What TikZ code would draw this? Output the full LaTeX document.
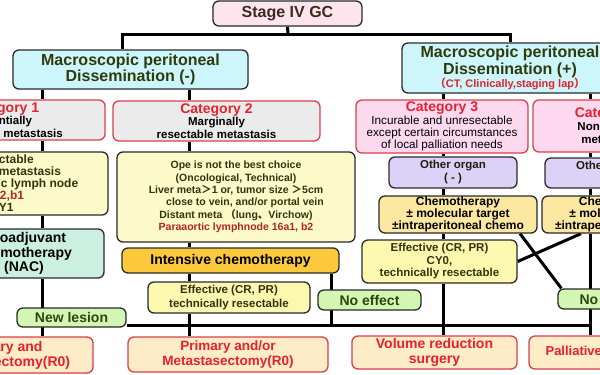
\documentclass[tikz,border=0pt]{standalone}
\usepackage{fontspec}
\setmainfont{Liberation Sans}
\newfontfamily\cjk{Noto Sans CJK JP}
\pgfdeclarelayer{bg}
\pgfsetlayers{bg,main}
\definecolor{cStage}{HTML}{FDE4EF}
\definecolor{cBrown}{HTML}{3C2A1E}
\definecolor{cCyan}{HTML}{CCF6FB}
\definecolor{cOlive}{HTML}{2F3B0C}
\definecolor{cGrey}{HTML}{EBEBEB}
\definecolor{cRedB}{HTML}{D9404A}
\definecolor{cRed}{HTML}{E5222B}
\definecolor{cPink}{HTML}{FDD9EF}
\definecolor{cYel}{HTML}{FCFAC9}
\definecolor{cMint}{HTML}{CBEFE0}
\definecolor{cGreen}{HTML}{D3F7B2}
\definecolor{cGreenT}{HTML}{2C4512}
\definecolor{cGold}{HTML}{FBC93B}
\definecolor{cEff}{HTML}{FCF8B0}
\definecolor{cLav}{HTML}{DCD1F7}
\definecolor{cChemo}{HTML}{FCE7A1}
\definecolor{cPeach}{HTML}{FEEBC8}
\definecolor{cDRed}{HTML}{B3261E}
\definecolor{cDark}{HTML}{33330F}
\definecolor{cBdr}{HTML}{2A2A2A}
\begin{document}
\begin{tikzpicture}[x=1pt,y=-1pt,
  box/.style={draw=cBdr, line width=1.3pt, rounded corners=6pt, inner sep=0pt, align=center},
  redbox/.style={box, draw=cRedB},
  conn/.style={line width=3pt, black},
  fbig/.style={font=\bfseries\fontsize{16}{16.5}\selectfont},
  fmid/.style={font=\bfseries\fontsize{14}{15}\selectfont},
  fsm/.style={font=\bfseries\fontsize{11.5}{12.5}\selectfont},
  ftw/.style={font=\bfseries\fontsize{12}{12}\selectfont}
]
\useasboundingbox (0,0) rectangle (600,375);
\clip (0,0) rectangle (600,375);

% top
\node[box, fill=cStage, minimum width=149pt, minimum height=25pt, text=cBrown, fbig] (stage) at (287.5,13.5) {Stage IV GC};
\node[box, fill=cCyan, minimum width=235pt, minimum height=39pt, text=cOlive, fbig] (macL) at (130.5,69.5) {Macroscopic peritoneal\\Dissemination (-)};
\node[box, fill=cCyan, minimum width=216pt, minimum height=50pt, text=cOlive, fbig] (macR) at (510,68) {Macroscopic peritoneal\\Dissemination (+)\\[-3pt]{\color{cRed}\fontsize{11}{12}\selectfont{\cjk （}CT, Clinically,staging lap{\cjk ）}}};

% categories
\node[redbox, fill=cGrey, minimum width=204pt, minimum height=40pt, fsm] (cat1) at (3,120) {{\color{cRed}\fontsize{14}{14}\selectfont Category 1}\\Potentially\\resectable metastasis};
\node[redbox, fill=cGrey, minimum width=207pt, minimum height=40pt, fsm] (cat2) at (216.5,121) {{\color{cRed}\fontsize{14}{14}\selectfont Category 2}\\Marginally\\resectable metastasis};
\node[redbox, fill=cPink, minimum width=172pt, minimum height=53pt, font=\fontsize{11.7}{12.3}\selectfont] (cat3) at (442,126.5) {{\color{cRed}\bfseries\fontsize{14}{14}\selectfont Category 3}\\Incurable and unresectable\\except certain circumstances\\of local palliation needs};
\node[redbox, fill=cPink, minimum width=156pt, minimum height=52pt, font=\bfseries\fontsize{11.5}{13}\selectfont] (cat4) at (611,126) {{\color{cRed}\fontsize{14}{14}\selectfont Category 4}\\Non-curable\\metastasis};

% left column
\node[box, fill=cYel, minimum width=212pt, minimum height=63pt, text=cDark, ftw] (yel1) at (2,183.5) {Resectable\\\hspace*{24pt}Liver metastasis\\\hspace*{23pt}Paraaortic lymph node\\{\color{cDRed}16a2,b1}\\CY1};
\node[box, fill=cMint, minimum width=160pt, minimum height=49pt, font=\bfseries\fontsize{14}{14.5}\selectfont] (nac) at (24,253.5) {Neoadjuvant\\chemotherapy\\(NAC)};
\node[box, fill=cGreen, minimum width=109pt, minimum height=19pt, text=cGreenT, fmid] (newlesion) at (71.5,317.5) {New lesion};
\node[redbox, fill=cPeach, minimum width=182pt, minimum height=36pt, text=cRed, fmid] (botL) at (2,355) {Primary and\\Metastasectomy(R0)};

% middle column
\node[box, fill=cYel, minimum width=238pt, minimum height=90pt, text=cDark, font=\bfseries\fontsize{10.5}{12.4}\selectfont] (yel2) at (236,197) {Ope is not the best choice\\(Oncological, Technical)\\Liver meta{\cjk ＞}1 or, tumor size {\cjk ＞}5cm\\\hspace*{18pt}close to vein, and/or portal vein\\Distant meta {\cjk （}lung{\cjk 、}Virchow)\\{\color{cDRed}Paraaortic lymphnode 16a1, b2}};
\node[box, fill=cGold, minimum width=217pt, minimum height=25pt, fmid] (intensive) at (230.5,260.5) {Intensive chemotherapy};
\node[box, fill=cEff, minimum width=162pt, minimum height=31pt, text=cDark, font=\bfseries\fontsize{11.5}{13.5}\selectfont] (eff2) at (229,297.5) {Effective (CR, PR)\\technically resectable};
\node[box, fill=cGreen, minimum width=103pt, minimum height=20pt, text=cGreenT, fmid] (noeffL) at (369.5,300) {No effect};
\node[redbox, fill=cPeach, minimum width=200pt, minimum height=35pt, text=cRed, font=\bfseries\fontsize{13.5}{14.5}\selectfont] (botM) at (228,354.5) {Primary and/or\\Metastasectomy(R0)};

% right columns
\node[box, fill=cLav, minimum width=128pt, minimum height=31pt, text=cDark!60!black, font=\bfseries\fontsize{11.5}{13}\selectfont] (other3) at (453,172.5) {Other organ\\( - )};
\node[box, fill=cLav, minimum width=128pt, minimum height=30pt, text=cDark!60!black, font=\bfseries\fontsize{11.5}{13}\selectfont] (other4) at (609,173) {Other organ\\( - )};
\node[box, fill=cChemo, minimum width=158pt, minimum height=37pt, font=\bfseries\fontsize{12}{11.8}\selectfont] (chemo3) at (458,214.5) {Chemotherapy\\± molecular target\\±intraperitoneal chemo};
\node[box, fill=cChemo, minimum width=158pt, minimum height=37pt, font=\bfseries\fontsize{12}{11.8}\selectfont] (chemo4) at (621,214.5) {Chemotherapy\\± molecular target\\±intraperitoneal chemo};
\node[box, fill=cEff, minimum width=155pt, minimum height=43pt, text=cDark, font=\bfseries\fontsize{11.5}{12.5}\selectfont] (effR) at (439.5,261.5) {Effective (CR, PR)\\CY0,\\technically resectable};
\node[box, fill=cGreen, minimum width=103pt, minimum height=20pt, text=cGreenT, fmid] (noeffR) at (609.5,299) {No effect};
\node[redbox, fill=cPeach, minimum width=165pt, minimum height=33pt, text=cRed, fmid] (botR) at (434.5,352.5) {Volume reduction\\surgery};
\node[redbox, fill=cPeach, minimum width=182pt, minimum height=33pt, text=cRed, font=\bfseries\fontsize{13}{14}\selectfont] (pall) at (620,352.5) {Palliative chemotherapy};

% guide coordinates
\coordinate (top) at (288,34);
\coordinate (gm) at (122,0);
\coordinate (ga) at (42,0);
\coordinate (gb) at (189,0);
\coordinate (gn) at (331,0);
\coordinate (gc) at (443,0);
\coordinate (gd) at (590,0);
\coordinate (ge) at (520,0);
\coordinate (gf) at (581,0);
\coordinate (busy) at (0,325);

\begin{pgfonlayer}{bg}
\fill[white] (0,0) rectangle (600,375);
\clip (0,0) rectangle (600,375);
\draw[conn] (stage.south) -- (top);
\draw[conn] (macL.north -| gm) |- (top) -| (macR.north);
\draw[conn] (macL.south -| ga) -- (cat1.north -| ga);
\draw[conn] (macL.south -| gb) -- (cat2.north -| gb);
\draw[conn] (cat1.south -| ga) -- (yel1.north -| ga);
\draw[conn] (yel1.south -| ga) -- (nac.north -| ga);
\draw[conn] (nac.south -| ga) -- (botL.north -| ga);
\draw[conn] (cat2.south -| gb) -- (yel2.north -| gb);
\draw[conn] (yel2.south -| gb) -- (intensive.north -| gb);
\draw[conn] (intensive.south -| gb) -- (eff2.north -| gb);
\draw[conn] (eff2.south -| gb) -- (botM.north -| gb);
\draw[conn] (intensive.south -| gn) -- (busy -| gn);
\draw[conn] (newlesion.east |- busy) -- (busy -| gd);
\draw[conn] (macR.south -| gc) -- (cat3.north -| gc);
\draw[conn] (cat3.south -| gc) -- (other3.north -| gc);
\draw[conn] (other3.south -| gc) -- (chemo3.north -| gc);
\draw[conn] (chemo3.south -| gc) -- (effR.north -| gc);
\draw[conn] (effR.south -| gc) -- (botR.north -| gc);
\draw[conn] (macR.south -| gd) -- (cat4.north -| gd);
\draw[conn] (cat4.south -| gd) -- (other4.north -| gd);
\draw[conn] (other4.south -| gd) -- (chemo4.north -| gd);
\draw[conn] (chemo4.south -| gd) -- (pall.north -| gd);
\draw[conn] (chemo3.south -| ge) -- ([xshift=4pt]noeffR.north west);
\draw[conn] (chemo4.south -| gf) -- (effR.east);
\end{pgfonlayer}
\end{tikzpicture}
\end{document}
